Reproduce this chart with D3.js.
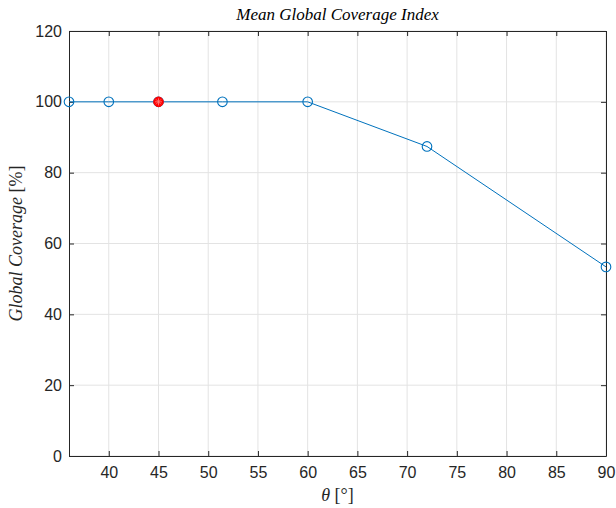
<!DOCTYPE html>
<html>
<head>
<meta charset="utf-8">
<script src="https://cdn.jsdelivr.net/npm/d3@7"></script>
<style>
  body { margin: 0; background: #fff; }
  .tick text { font-family: "Liberation Sans", Arial, sans-serif; font-size: 16px; fill: #262626; }
</style>
</head>
<body>
<div id="chart"></div>
<script>
// Data.
const THETA = [36, 40, 45, 360 / 7, 60, 72, 90];
const COVERAGE = [100, 100, 100, 100, 100, 87.4, 53.4];
const BEST = [45];
const BEST_COVERAGE = [100];
const X_TICKS = [40, 45, 50, 55, 60, 65, 70, 75, 80, 85, 90];
const Y_TICKS = [0, 20, 40, 60, 80, 100, 120];

const WIDTH = 616, HEIGHT = 508;
const PLOT = {'left': 69, 'right': 606, 'top': 31, 'bottom': 456};

var svg = d3.select("#chart").append("svg")
            .attr("width", WIDTH)
            .attr("height", HEIGHT);

var x = d3.scaleLinear().domain([36, 90]).range([PLOT.left, PLOT.right]);
var y = d3.scaleLinear().domain([0, 120]).range([PLOT.bottom, PLOT.top]);

// grid
svg.append("g").selectAll("line")
   .data(X_TICKS).enter().append("line")
   .attr("x1", d => x(d)).attr("x2", d => x(d))
   .attr("y1", PLOT.top).attr("y2", PLOT.bottom)
   .attr("stroke", "#e3e3e3").attr("stroke-width", 1);
svg.append("g").selectAll("line")
   .data(Y_TICKS).enter().append("line")
   .attr("x1", PLOT.left).attr("x2", PLOT.right)
   .attr("y1", d => y(d)).attr("y2", d => y(d))
   .attr("stroke", "#e3e3e3").attr("stroke-width", 1);

// axes (ticks inward, box all round)
function styleAxis(g) {
    g.select(".domain").attr("stroke", "#262626").attr("stroke-width", 1);
    g.selectAll(".tick line").attr("stroke", "#262626");
}
svg.append("g").attr("transform", "translate(0," + PLOT.bottom + ")")
   .call(d3.axisBottom(x).tickValues(X_TICKS).tickSizeInner(-5).tickSizeOuter(0).tickPadding(11))
   .call(styleAxis);
svg.append("g").attr("transform", "translate(0," + PLOT.top + ")")
   .call(d3.axisTop(x).tickValues(X_TICKS).tickSizeInner(-5).tickSizeOuter(0).tickFormat(""))
   .call(styleAxis);
svg.append("g").attr("transform", "translate(" + PLOT.left + ",0)")
   .call(d3.axisLeft(y).tickValues(Y_TICKS).tickSizeInner(-5).tickSizeOuter(0).tickPadding(7))
   .call(styleAxis);
svg.append("g").attr("transform", "translate(" + PLOT.right + ",0)")
   .call(d3.axisRight(y).tickValues(Y_TICKS).tickSizeInner(-5).tickSizeOuter(0).tickFormat(""))
   .call(styleAxis);

// line + markers
var line = d3.line().x((d, i) => x(THETA[i])).y(d => y(d));
svg.append("path")
   .datum(COVERAGE)
   .attr("d", line)
   .attr("fill", "none")
   .attr("stroke", "#0072bd")
   .attr("stroke-width", 1);

svg.append("g").selectAll("circle")
   .data(COVERAGE).enter().append("circle")
   .attr("cx", (d, i) => x(THETA[i]))
   .attr("cy", d => y(d))
   .attr("r", 4.8)
   .attr("fill", "none")
   .attr("stroke", "#0072bd")
   .attr("stroke-width", 1.1);

// highlighted point
var best = svg.append("g");
best.selectAll("circle")
    .data(BEST_COVERAGE).enter().append("circle")
    .attr("cx", (d, i) => x(BEST[i]))
    .attr("cy", d => y(d))
    .attr("r", 4.8)
    .attr("fill", "#ff0000")
    .attr("stroke", "#ff0000");
best.selectAll("path")
    .data(BEST_COVERAGE).enter().append("path")
    .attr("transform", (d, i) => "translate(" + x(BEST[i]) + "," + y(d) + ")")
    .attr("d", "M-3.5,0H3.5M0,-3.5V3.5M-2.5,-2.5L2.5,2.5M-2.5,2.5L2.5,-2.5")
    .attr("stroke", "#ff8080")
    .attr("stroke-width", 0.8);

// texts
var serif = '"Liberation Serif", "DejaVu Serif", serif';
svg.append("text")
   .attr("x", (PLOT.left + PLOT.right) / 2).attr("y", 20)
   .attr("text-anchor", "middle")
   .attr("font-family", serif).attr("font-style", "italic").attr("font-size", "17px")
   .attr("fill", "#000")
   .text("Mean Global Coverage Index");

var xl = svg.append("text")
   .attr("x", (PLOT.left + PLOT.right) / 2).attr("y", 501)
   .attr("text-anchor", "middle")
   .attr("font-family", serif).attr("font-size", "18px")
   .attr("fill", "#262626");
xl.append("tspan").attr("font-style", "italic").text("θ");
xl.append("tspan").text(" [°]");

var yl = svg.append("text")
   .attr("transform", "translate(22," + (PLOT.top + PLOT.bottom) / 2 + ") rotate(-90)")
   .attr("text-anchor", "middle")
   .attr("font-family", serif).attr("font-size", "18px")
   .attr("fill", "#262626");
yl.append("tspan").attr("font-style", "italic").text("Global Coverage");
yl.append("tspan").text(" [%]");
</script>
</body>
</html>
